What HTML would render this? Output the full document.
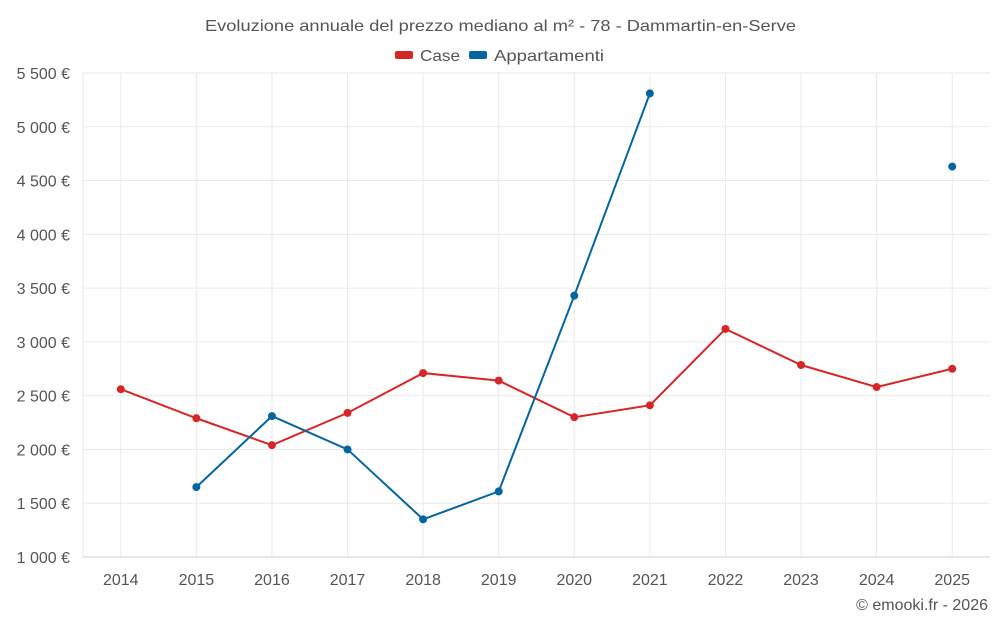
<!DOCTYPE html>
<html><head><meta charset="utf-8"><style>
body{margin:0;background:#fff;font-family:"Liberation Sans",sans-serif}
svg text{font-family:"Liberation Sans",sans-serif;fill:#555}
</style></head><body>
<svg id="chart" width="1000" height="625">
<text x="205" y="31" font-size="16" textLength="591" lengthAdjust="spacingAndGlyphs">Evoluzione annuale del prezzo mediano al m² - 78 - Dammartin-en-Serve</text>
<g>
<g><rect x="395" y="51" width="18" height="8" rx="2" fill="#d62728"/><text x="420" y="61" font-size="16" textLength="40" lengthAdjust="spacingAndGlyphs">Case</text></g>
<g><rect x="469" y="51" width="18" height="8" rx="2" fill="#05659e"/><text x="494" y="61" font-size="16" textLength="110" lengthAdjust="spacingAndGlyphs">Appartamenti</text></g>
</g>
<g id="grid"></g><g id="axes"></g><g id="series"></g>
<text x="988" y="610" text-anchor="end" font-size="16">© emooki.fr - 2026</text>
</svg>
<script>
const years=[2014,2015,2016,2017,2018,2019,2020,2021,2022,2023,2024,2025];
const caseVals=[2560,2290,2040,2340,2710,2640,2300,2410,3120,2785,2580,2750];
const apptVals=[null,1650,2310,2000,1350,1610,3430,5310,null,null,null,4630];
const yTicks=[1000,1500,2000,2500,3000,3500,4000,4500,5000,5500];
const L=83,R=990,T=73,B=557,yMin=1000,yMax=5500;
const ns="http://www.w3.org/2000/svg";
const step=(R-L)/years.length;
const xS=i=>L+step*(i+0.5);
const yS=v=>B-(v-yMin)/(yMax-yMin)*(B-T);
function mk(t,a,p){const e=document.createElementNS(ns,t);for(const k in a)e.setAttribute(k,a[k]);p.appendChild(e);return e;}
const grid=document.getElementById('grid'),axes=document.getElementById('axes'),ser=document.getElementById('series');
yTicks.forEach(v=>{
 const l=mk('line',{x1:L,x2:R,y1:yS(v),y2:yS(v),stroke:v===yMin?'#ccc':'#eaeaea'},grid);
 
 
 const t=mk('text',{x:70,y:yS(v)+6,'text-anchor':'end','font-size':16},axes);
 t.textContent=v.toLocaleString('fr-FR').replace(/\s/g,' ')+' €';
 
 
});
mk('line',{x1:L,x2:L,y1:T,y2:B,stroke:'#eaeaea'},grid);
years.forEach((y,i)=>{
 const l=mk('line',{x1:xS(i),x2:xS(i),y1:T,y2:B,stroke:'#eaeaea'},grid);
 
 
 const t=mk('text',{x:xS(i),y:585,'text-anchor':'middle','font-size':16},axes);
 t.textContent=y;
 
 
});
function draw(vals,color,name){
 let d='',pen=false;
 vals.forEach((v,i)=>{if(v==null){pen=false;return;}d+=(pen?'L':'M')+xS(i)+' '+yS(v)+' ';pen=true;});
 const p=mk('path',{d:d,fill:'none',stroke:color,'stroke-width':2},ser);
 
 
 vals.forEach((v,i)=>{if(v==null)return;
  const c=mk('circle',{cx:xS(i),cy:yS(v),r:4,fill:color},ser);
  
  
 });
}
draw(caseVals,'#d62728','case');
draw(apptVals,'#05659e','appartamenti');
</script>
</body></html>
